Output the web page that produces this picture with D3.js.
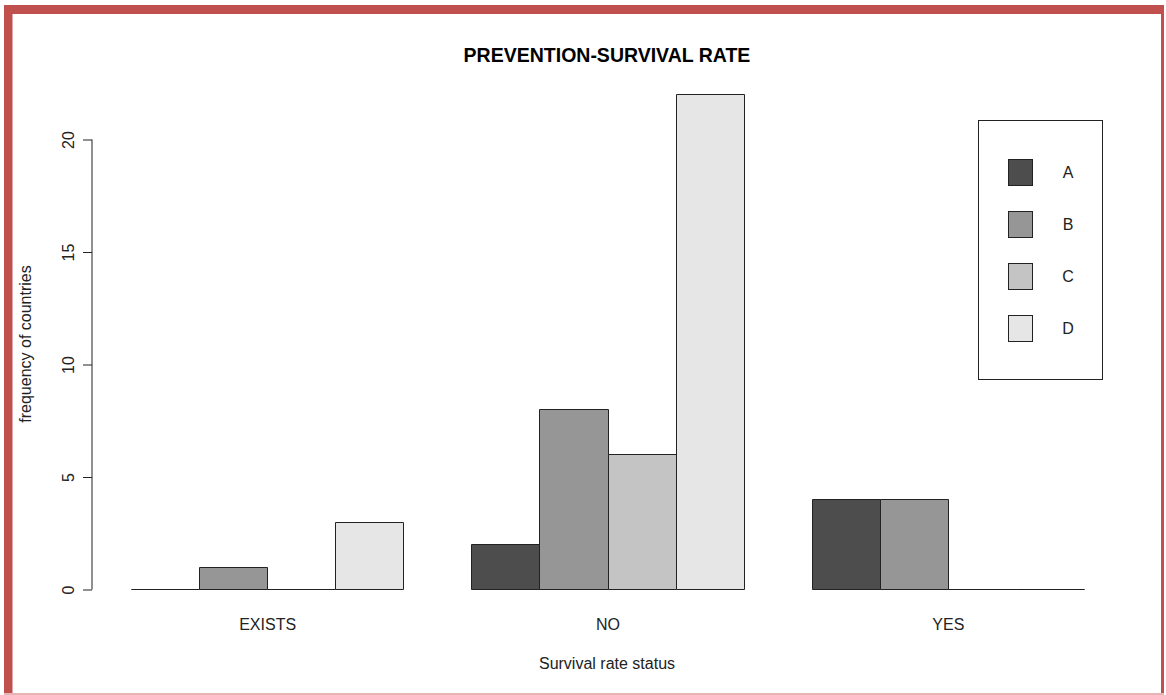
<!DOCTYPE html>
<html><head><meta charset="utf-8">
<script src="https://cdn.jsdelivr.net/npm/d3@7"></script>
<style>html,body{margin:0;padding:0;background:#fff;}svg{display:block;}</style>
</head><body>
<svg id="chart" width="1166" height="695"></svg>
<script>
const categories = ["EXISTS", "NO", "YES"];
const seriesNames = ["A", "B", "C", "D"];
const seriesA = [0, 2, 4];
const seriesB = [1, 8, 4];
const seriesC = [0, 6, 0];
const seriesD = [3, 22, 0];
const seriesColors = ["#4D4D4D", "#969696", "#C4C4C4", "#E6E6E6"];
const yTicks = [0, 5, 10, 15, 20];
const titleText = "PREVENTION-SURVIVAL RATE";
const xTitle = "Survival rate status";
const yTitle = "frequency of countries";

const allSeries = [seriesA, seriesB, seriesC, seriesD];
const svg = d3.select("#chart");
const font = "'Liberation Sans', Arial, sans-serif";

// border frame
const red = "#C0504D";
svg.append("rect").attr("x", 4).attr("y", 5).attr("width", 8.5).attr("height", 690).attr("fill", red);
svg.append("rect").attr("x", 4).attr("y", 5).attr("width", 1160).attr("height", 9).attr("fill", red);
svg.append("rect").attr("x", 1161).attr("y", 5).attr("width", 3).attr("height", 690).attr("fill", red);
svg.append("rect").attr("x", 4).attr("y", 693).attr("width", 1160).attr("height", 2).attr("fill", "#E8B4B3");

// scales: bar units (R barplot, beside, space c(0,1))
const x = d3.scaleLinear().domain([1, 15]).range([131.5, 1084.5]);
const y = d3.scaleLinear().domain([0, 20]).range([589.5, 139.5]);

const g = svg.append("g");
categories.forEach((cat, i) => {
  const start = 1 + i * 5;
  allSeries.forEach((s, j) => {
    const v = s[i];
    const x0 = Math.round(x(start + j) - 0.5) + 0.5;
    const x1 = Math.round(x(start + j + 1) - 0.5) + 0.5;
    const y0 = y(0), y1 = Math.round(y(v) - 0.5) + 0.5;
    g.append("path")
      .attr("d", `M${x0},${y0}H${x1}V${y1}H${x0}Z`)
      .attr("fill", seriesColors[j])
      .attr("stroke", "#222")
      .attr("stroke-width", 1);
  });
  g.append("text")
    .attr("x", x(start + 2))
    .attr("y", 630)
    .attr("text-anchor", "middle")
    .attr("font-family", font).attr("font-size", 16).attr("fill", "#222")
    .text(cat);
});

// y axis
const yAxis = d3.axisLeft(y).tickValues(yTicks).tickSize(9).tickFormat(d3.format("d"));
const ya = svg.append("g").attr("transform", "translate(92,0)").call(yAxis);
ya.select(".domain").attr("d", `M0,${y(0)}V${y(20)}`).attr("stroke", "#222");
ya.selectAll(".tick line").attr("stroke", "#222");
ya.selectAll(".tick text")
  .attr("font-family", font).attr("font-size", 16).attr("fill", "#222")
  .attr("x", null).attr("dy", null)
  .attr("text-anchor", "middle")
  .attr("transform", "translate(-24,0) rotate(-90)")
  .attr("y", 0).attr("dy", "0.36em");

// titles
svg.append("text").attr("x", 607).attr("y", 62).attr("text-anchor", "middle")
  .attr("font-family", font).attr("font-size", 19.5).attr("font-weight", "bold").attr("fill", "#000")
  .text(titleText);
svg.append("text").attr("x", 607).attr("y", 669).attr("text-anchor", "middle")
  .attr("font-family", font).attr("font-size", 16).attr("fill", "#222")
  .text(xTitle);
svg.append("text").attr("transform", "translate(31,344) rotate(-90)").attr("text-anchor", "middle")
  .attr("font-family", font).attr("font-size", 16).attr("fill", "#222")
  .text(yTitle);

// legend
const lg = svg.append("g");
lg.append("rect").attr("x", 978.5).attr("y", 120.5).attr("width", 124).attr("height", 259)
  .attr("fill", "#fff").attr("stroke", "#222");
seriesNames.forEach((n, j) => {
  const cy = 172.5 + j * 52;
  lg.append("rect").attr("x", 1008.5).attr("y", cy - 13).attr("width", 24).attr("height", 26)
    .attr("fill", seriesColors[j]).attr("stroke", "#222");
  lg.append("text").attr("x", 1068).attr("y", cy).attr("dy", "0.36em").attr("text-anchor", "middle")
    .attr("font-family", font).attr("font-size", 16).attr("fill", "#222").text(n);
});
</script>
</body></html>
